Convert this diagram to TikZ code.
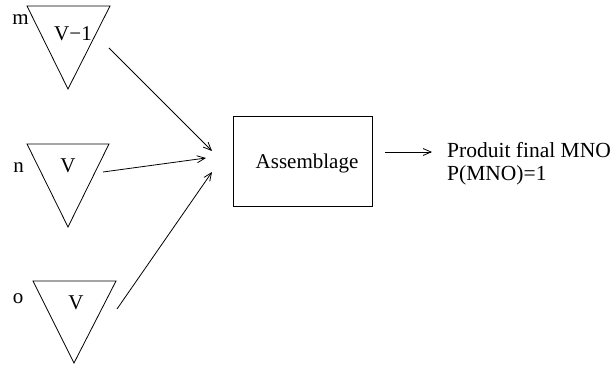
\documentclass[tikz,border=0pt]{standalone}
\usepackage{fontspec}
\setmainfont{Liberation Serif}
\usetikzlibrary{arrows.meta}
\begin{document}
\begin{tikzpicture}[x=1pt,y=-1pt,
  lbl/.style={inner sep=0pt,anchor=base,font=\fontsize{21}{22}\selectfont},
  tri/.style={draw,line width=0.8pt,line join=miter},
  conn/.style={draw,line width=0.8pt,-{Straight Barb[length=8pt,width=7pt,line width=0.8pt]}},
  boxstyle/.style={draw,line width=0.8pt,minimum width=139pt,minimum height=90pt,inner sep=0pt}]
\useasboundingbox (0,0) rectangle (615,366);
% triangles
\draw[tri] (27,6) -- (110,6) -- (68,89) -- cycle;
\draw[tri] (27,144) -- (109,144) -- (68,227) -- cycle;
\draw[tri] (33,281) -- (116,281) -- (74,363) -- cycle;
% labels
\node[lbl] (m) at (20.5,25) {m};
\node[lbl] (v1) at (73,41) {V−1};
\node[lbl] (n) at (18.5,172) {n};
\node[lbl] (v2) at (68,172) {V};
\node[lbl] (o) at (18,303) {o};
\node[lbl] (v3) at (76,309) {V};
% box
\node[boxstyle] (box) at (302.5,161) {};
\node[lbl] (asm) at (307,168) {Assemblage};
% output text
\node[lbl,anchor=base west,font=\fontsize{21.5}{22}\selectfont\addfontfeatures{Ligatures=NoCommon}] (prod) at (447,158) {Produit final MNO};
\node[lbl,anchor=base west,font=\fontsize{21.5}{22}\selectfont] (prob) at (447,180) {P(MNO)=1};
% connector coordinates
\coordinate (s1) at (109,48);
\coordinate (e1) at (212,151);
\coordinate (s2) at (103,172);
\coordinate (e2) at (206,158);
\coordinate (s3) at (117,309);
\coordinate (e3) at (212,172);
\coordinate (s4) at (385,152);
\coordinate (e4) at (432,152);
\draw[conn] (s1) -- (e1);
\draw[conn] (s2) -- (e2);
\draw[conn] (s3) -- (e3);
\draw[conn] (s4) -- (e4);
\end{tikzpicture}
\end{document}
